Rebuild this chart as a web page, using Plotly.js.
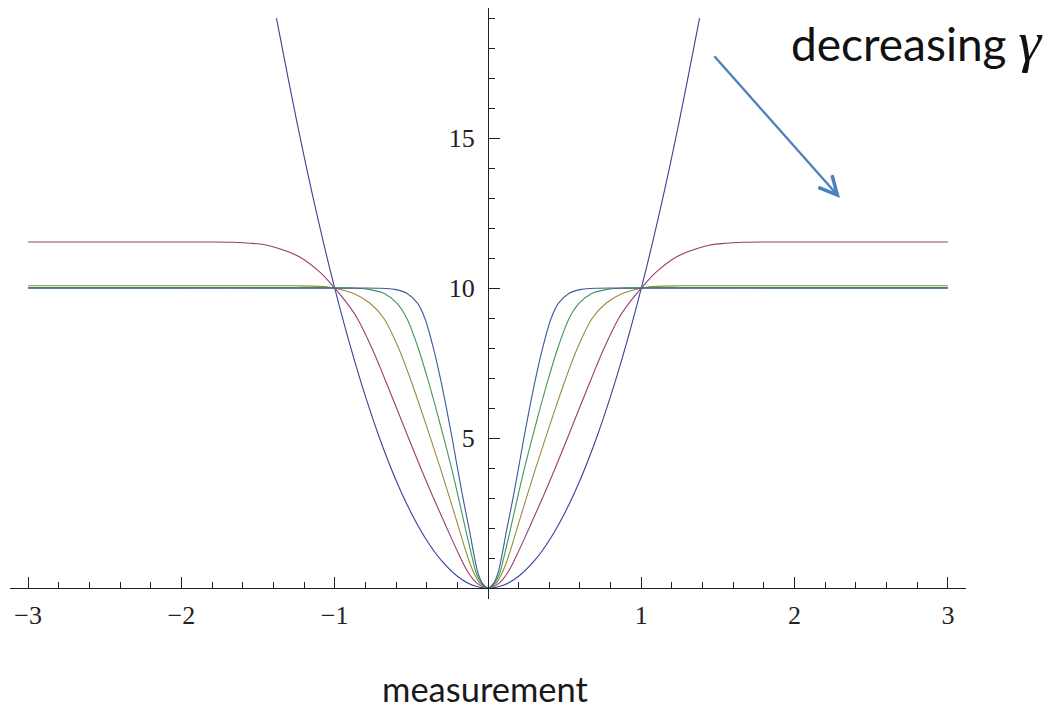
<!DOCTYPE html>
<html>
<head>
<meta charset="utf-8">
<script src="https://cdn.plot.ly/plotly-3.0.1.min.js"></script>
<style>
  html, body { margin: 0; padding: 0; background: #ffffff; }
  #chart { width: 1064px; height: 715px; }
</style>
</head>
<body>
<div id="chart"></div>
<script>
// Quadratic loss
const quadX = [-1.38, -1.3, -1.2, -1.1, -1.0, -0.9, -0.8, -0.7, -0.6, -0.5, -0.4, -0.3, -0.2, -0.1, 0,
               0.1, 0.2, 0.3, 0.4, 0.5, 0.6, 0.7, 0.8, 0.9, 1.0, 1.1, 1.2, 1.3, 1.38];
const quadY = [19.0, 16.9, 14.4, 12.1, 10.0, 8.1, 6.4, 4.9, 3.6, 2.5, 1.6, 0.9, 0.4, 0.1, 0,
               0.1, 0.4, 0.9, 1.6, 2.5, 3.6, 4.9, 6.4, 8.1, 10.0, 12.1, 14.4, 16.9, 19.0];

// Robust losses, largest gamma first
const purpleX = [-3, -2.4, -1.8, -1.665, -1.55, -1.448, -1.35, -1.231, -1.1, -1.0, -0.92, -0.853, -0.757, -0.675,
                 -0.596, -0.518, -0.438, -0.355, -0.268, -0.178, -0.126, -0.07, 0,
                 0.07, 0.126, 0.178, 0.268, 0.355, 0.438, 0.518, 0.596, 0.675, 0.757, 0.853, 0.92, 1.0,
                 1.1, 1.231, 1.35, 1.448, 1.55, 1.665, 1.8, 2.4, 3];
const purpleY = [11.54, 11.54, 11.54, 11.53, 11.5, 11.44, 11.3, 11.05, 10.55, 10.0, 9.5, 9.0, 8.0, 7.0,
                 6.0, 5.0, 4.0, 3.0, 2.0, 1.0, 0.5, 0.16, 0,
                 0.16, 0.5, 1.0, 2.0, 3.0, 4.0, 5.0, 6.0, 7.0, 8.0, 9.0, 9.5, 10.0,
                 10.55, 11.05, 11.3, 11.44, 11.5, 11.53, 11.54, 11.54, 11.54];

const yellowX = [-3, -2.2, -1.5, -1.25, -1.1, -1.0, -0.88, -0.77, -0.68, -0.583, -0.508, -0.44, -0.375,
                 -0.311, -0.25, -0.19, -0.13, -0.091, -0.05, 0,
                 0.05, 0.091, 0.13, 0.19, 0.25, 0.311, 0.375, 0.44, 0.508, 0.583, 0.68, 0.77, 0.88,
                 1.0, 1.1, 1.25, 1.5, 2.2, 3];
const yellowY = [10.08, 10.08, 10.08, 10.08, 10.06, 10.0, 9.83, 9.5, 9.0, 8.0, 7.0, 6.0, 5.0,
                 4.0, 3.0, 2.0, 1.0, 0.5, 0.15, 0,
                 0.15, 0.5, 1.0, 2.0, 3.0, 4.0, 5.0, 6.0, 7.0, 8.0, 9.0, 9.5, 9.83,
                 10.0, 10.06, 10.08, 10.08, 10.08, 10.08];

const greenX = [-3, -2.0, -1.1, -0.92, -0.79, -0.68, -0.595, -0.53, -0.455, -0.395, -0.34, -0.288, -0.238,
                -0.192, -0.148, -0.102, -0.076, -0.04, 0,
                0.04, 0.076, 0.102, 0.148, 0.192, 0.238, 0.288, 0.34, 0.395, 0.455, 0.53, 0.595, 0.68,
                0.79, 0.92, 1.1, 2.0, 3];
const greenY = [10.02, 10.02, 10.02, 10.01, 9.97, 9.83, 9.5, 9.0, 8.0, 7.0, 6.0, 5.0, 4.0,
                3.0, 2.0, 1.0, 0.5, 0.15, 0,
                0.15, 0.5, 1.0, 2.0, 3.0, 4.0, 5.0, 6.0, 7.0, 8.0, 9.0, 9.5, 9.83,
                9.97, 10.01, 10.02, 10.02, 10.02];

const blueX = [-3, -2.0, -1.0, -0.72, -0.61, -0.53, -0.46, -0.412, -0.356, -0.311, -0.271, -0.234, -0.199,
               -0.163, -0.124, -0.087, -0.065, -0.035, 0,
               0.035, 0.065, 0.087, 0.124, 0.163, 0.199, 0.234, 0.271, 0.311, 0.356, 0.412, 0.46, 0.53,
               0.61, 0.72, 1.0, 2.0, 3];
const blueY = [10.0, 10.0, 10.0, 10.0, 9.96, 9.83, 9.5, 9.0, 8.0, 7.0, 6.0, 5.0, 4.0,
               3.0, 2.0, 1.0, 0.5, 0.15, 0,
               0.15, 0.5, 1.0, 2.0, 3.0, 4.0, 5.0, 6.0, 7.0, 8.0, 9.0, 9.5, 9.83,
               9.96, 10.0, 10.0, 10.0, 10.0];

const xTickVals = [-3, -2, -1, 1, 2, 3];
const xTickText = ['\u22123', '\u22122', '\u22121', '1', '2', '3'];
const yTickVals = [5, 10, 15];
const yTickText = ['5', '10', '15'];

const colors = {
  quad: 'rgb(63,61,153)',
  purple: 'rgb(153,61,113)',
  yellow: 'rgb(153,139,61)',
  green: 'rgb(61,153,86)',
  blue: 'rgb(61,90,153)'
};

function curve(x, y, color) {
  return {
    type: 'scatter', mode: 'lines', x: x, y: y,
    line: { color: color, width: 1.1, shape: 'spline', smoothing: 1 },
    hoverinfo: 'skip', showlegend: false
  };
}

const traces = [
  curve(quadX, quadY, colors.quad),
  curve(purpleX, purpleY, colors.purple),
  curve(yellowX, yellowY, colors.yellow),
  curve(greenX, greenY, colors.green),
  curve(blueX, blueY, colors.blue)
];

const xRange = [-3.118, 3.118];
const yRange = [-0.36, 19.34];
const axisColor = '#222222';
const tickFont = { family: 'Liberation Serif, Times New Roman, serif', size: 26, color: '#222222' };

const layout = {
  width: 1064, height: 715,
  margin: { l: 10, r: 98, t: 8, b: 116 },
  paper_bgcolor: '#ffffff', plot_bgcolor: '#ffffff',
  showlegend: false,
  xaxis: {
    range: xRange, anchor: 'free', position: (0 - yRange[0]) / (yRange[1] - yRange[0]),
    showgrid: false, zeroline: false, showline: true, linecolor: axisColor, linewidth: 1.2,
    tickmode: 'array', tickvals: xTickVals, ticktext: xTickText,
    ticks: 'inside', ticklen: 11, tickwidth: 1, tickcolor: axisColor,
    tickfont: tickFont, ticklabelstandoff: 3,
    minor: { tickmode: 'linear', tick0: 0, dtick: 0.2, ticks: 'inside', ticklen: 6, tickwidth: 1, tickcolor: axisColor, showgrid: false },
    fixedrange: true
  },
  yaxis: {
    range: yRange, anchor: 'free', position: (0 - xRange[0]) / (xRange[1] - xRange[0]),
    showgrid: false, zeroline: false, showline: true, linecolor: axisColor, linewidth: 1.2,
    tickmode: 'array', tickvals: yTickVals, ticktext: yTickText,
    ticks: 'inside', ticklen: 11, tickwidth: 1, tickcolor: axisColor,
    tickfont: tickFont, ticklabelstandoff: 8,
    minor: { tickmode: 'linear', tick0: 0, dtick: 1, ticks: 'inside', ticklen: 6, tickwidth: 1, tickcolor: axisColor, showgrid: false },
    fixedrange: true
  },
  annotations: [
    {
      xref: 'paper', yref: 'paper', x: 0.4969, y: -0.152,
      xanchor: 'center', yanchor: 'middle', showarrow: false,
      text: 'measurement',
      font: { family: 'Lato, Open Sans, sans-serif', size: 34.5, color: '#1a1a1a' }
    },
    {
      xref: 'paper', yref: 'paper', x: 0.815, y: 0.943,
      xanchor: 'left', yanchor: 'middle', showarrow: false,
      text: 'decreasing <span style="font-family:\'Liberation Serif\', serif; font-style:italic; font-size:58px">\u03b3</span>',
      font: { family: 'Lato, Open Sans, sans-serif', size: 46, color: '#111111' }
    },
    {
      xref: 'x', yref: 'y', axref: 'x', ayref: 'y',
      x: 2.296, y: 13.01, ax: 1.468, ay: 17.78,
      text: '', showarrow: true, arrowhead: 5, arrowsize: 1.5, arrowwidth: 2.4,
      arrowcolor: '#4f81bd', standoff: 0, startstandoff: 0
    }
  ]
};

Plotly.newPlot('chart', traces, layout, { displayModeBar: false, staticPlot: true });
</script>
</body>
</html>
